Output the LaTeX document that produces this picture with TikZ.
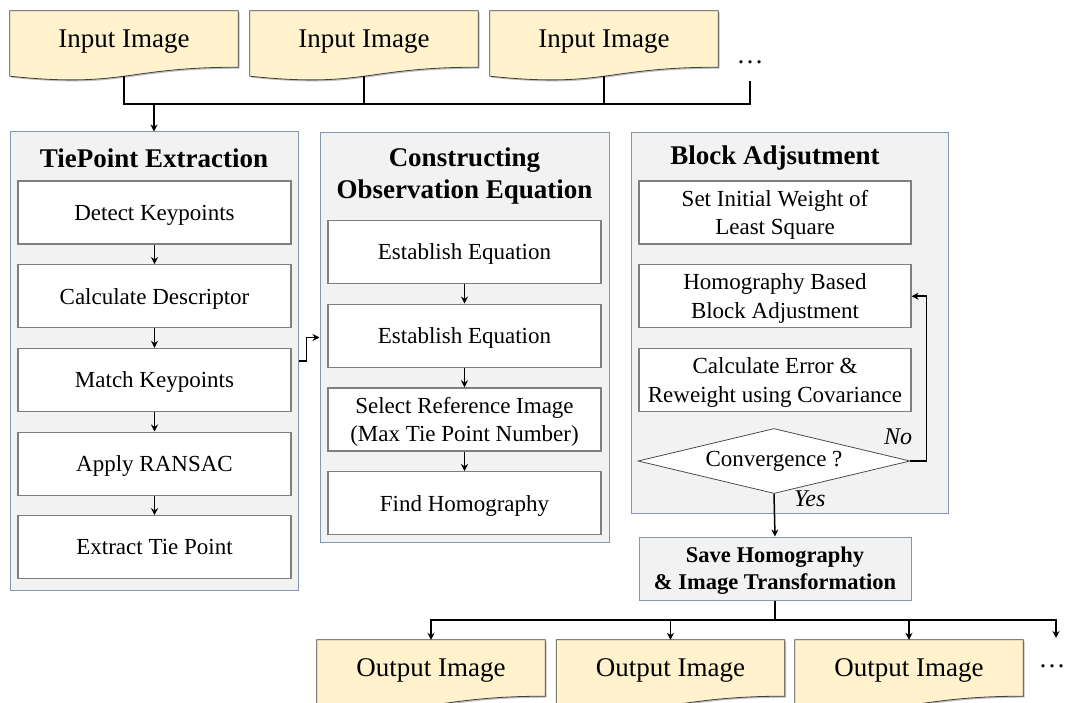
\documentclass[tikz,border=0pt]{standalone}
\usepackage{fontspec}
\setmainfont{Liberation Serif}
\usepackage{xcolor}
\usetikzlibrary{arrows.meta}
\usetikzlibrary{calc}
\usetikzlibrary{positioning}
\usetikzlibrary{shapes.geometric}
\usetikzlibrary{backgrounds}

\definecolor{docyellow}{HTML}{FFF2CC}
\definecolor{panelgray}{HTML}{F2F2F2}
\definecolor{panelline}{HTML}{8497B0}
\definecolor{boxline}{HTML}{7F7F7F}

\begin{document}
\begin{tikzpicture}[x=1pt,y=-1pt,
    doc/.style={minimum width=228pt,minimum height=56pt,inner sep=0pt,text depth=0pt,font=\fontsize{27}{32}\selectfont},
    panel/.style={draw=panelline,fill=panelgray,line width=1pt,inner sep=0pt},
    title/.style={align=center,font=\fontsize{27}{32}\selectfont\bfseries},
    stepbox/.style={draw=boxline,fill=white,line width=1.2pt,minimum width=273pt,minimum height=63pt,
      inner sep=0pt,text depth=0pt,align=center,font=\fontsize{23}{28.5}\selectfont},
    savebox/.style={draw=panelline,fill=panelgray,line width=1pt,minimum width=272pt,minimum height=63pt,
      inner sep=0pt,text depth=0pt,align=center,font=\fontsize{22.5}{27}\selectfont\bfseries},
    decision/.style={diamond,draw=black!70,fill=white,line width=0.8pt,aspect=4.2,
      minimum width=272pt,minimum height=65pt,inner sep=0pt,font=\fontsize{23}{28}\selectfont},
    lbl/.style={inner sep=0pt,font=\fontsize{24}{28}\selectfont\itshape},
    wire/.style={line width=1.5pt},
    flow/.style={line width=1.5pt,-{Stealth[length=7pt,width=7pt]}},
    node distance=19.5pt]

  \useasboundingbox (0,0) rectangle (1065,703);

  % input and output images
  \node[doc] (in1) at (124,39) {Input Image};
  \node[doc] (in2) at (364,39) {Input Image};
  \node[doc] (in3) at (604,39) {Input Image};
  \node[font=\fontsize{27}{32}\selectfont] (indots) at (750,62) {…};

  \node[doc] (out1) at (431,668) {Output Image};
  \node[doc] (out2) at (670.5,668) {Output Image};
  \node[doc] (out3) at (909,668) {Output Image};
  \node[font=\fontsize{27}{32}\selectfont] (outdots) at (1052,666) {…};

  \begin{scope}[on background layer]
    \foreach \d in {in1,in2,in3,out1,out2,out3}{
      \fill[black!25,transform canvas={shift={(1.5pt,-1.5pt)}}] (\d.north west) -- (\d.north east) -- (\d.south east)
        .. controls (\d.south) and ($(\d.south)+(0,21)$) .. ($(\d.south west)+(0,9)$) -- cycle;
      \filldraw[fill=docyellow,draw=black!75,line width=0.8pt] (\d.north west) -- (\d.north east) -- (\d.south east)
        .. controls (\d.south) and ($(\d.south)+(0,21)$) .. ($(\d.south west)+(0,9)$) -- cycle;
    }
  \end{scope}

  % TiePoint Extraction
  \node[panel,minimum width=288pt,minimum height=458pt] (tpe) at (154,361) {};
  \node[title] (tpetitle) at (154,158) {TiePoint Extraction};
  \node[stepbox] (detect) at (154.5,212.5) {Detect Keypoints};
  \node[stepbox,below=of detect] (descr) {Calculate Descriptor};
  \node[stepbox,below=of descr] (match) {Match Keypoints};
  \node[stepbox,below=of match] (ransac) {Apply RANSAC};
  \node[stepbox,below=of ransac] (extract) {Extract Tie Point};

  % Constructing Observation Equation
  \node[panel,minimum width=289pt,minimum height=409pt] (coe) at (464.5,337.5) {};
  \node[title] (coetitle) at (464.5,176) {Constructing\\Observation Equation};
  \node[stepbox] (estab1) at (464.5,252) {Establish Equation};
  \node[stepbox,below=of estab1] (estab2) {Establish Equation};
  \node[stepbox,below=of estab2] (select) {Select Reference Image\\(Max Tie Point Number)};
  \node[stepbox,below=of select] (findhom) {Find Homography};

  % Block Adjustment
  \node[panel,minimum width=317pt,minimum height=380pt] (ba) at (789.5,323) {};
  \node[title] (batitle) at (775,158) {Block Adjsutment};
  \node[stepbox,minimum width=272pt] (initw) at (775,212.5) {Set Initial Weight of\\Least Square};
  \node[stepbox,minimum width=272pt,below=of initw] (hba) {Homography Based\\Block Adjustment};
  \node[stepbox,minimum width=272pt,below=of hba] (reweight) {Calculate Error \&\\Reweight using Covariance};
  \node[decision] (conv) at (774,461) {Convergence ?};
  \node[lbl,anchor=south east] (no) at ($(conv.east)+(2,-16)$) {No};
  \node[lbl,anchor=south west] (yes) at ($(conv.south)+(20,13)$) {Yes};

  \node[savebox] (save) at (775,568.5) {Save Homography\\\& Image Transformation};

  % connectors
  \coordinate (inbus) at (750,104);
  \coordinate (outbus) at (1056,620);
  \coordinate (outend) at (1056,638);

  \draw[wire] ($(in1.south)+(0,9)$) |- (inbus) -- ++(0,-23);
  \draw[wire] ($(in2.south)+(0,9)$) -- (in2.south |- inbus);
  \draw[wire] ($(in3.south)+(0,9)$) -- (in3.south |- inbus);
  \draw[flow] (tpe.north |- inbus) -- (tpe.north);

  \foreach \a/\b in {detect/descr,descr/match,match/ransac,ransac/extract,estab1/estab2,estab2/select,select/findhom}
    \draw[flow] (\a) -- (\b);

  \draw[flow] (tpe.east) -- ++(8,0) |- (coe.west);
  \draw[flow] (conv.east) -- ++(16,0) |- (hba.east);
  \draw[flow] (conv.south) -- (save.north);

  \draw[flow] (save.south) |- (out1.north |- outbus) -- (out1.north);
  \draw[flow] (save.south |- outbus) -| (outend);
  \draw[flow] (out2.north |- outbus) -- (out2.north);
  \draw[flow] (out3.north |- outbus) -- (out3.north);

\end{tikzpicture}
\end{document}
